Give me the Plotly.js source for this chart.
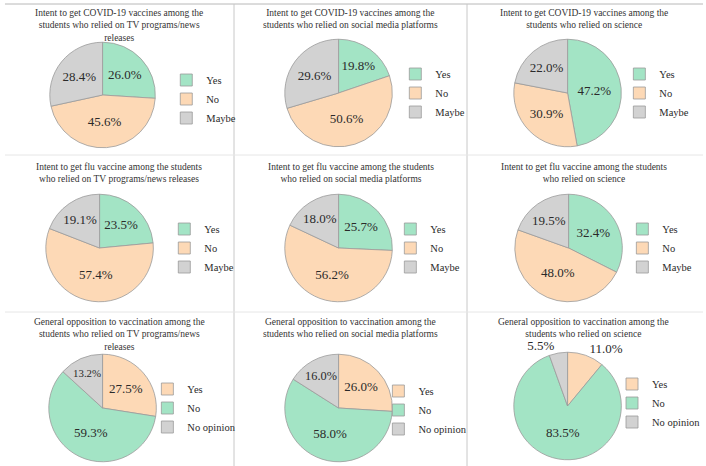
<!DOCTYPE html>
<html>
<head>
<meta charset="utf-8">
<script src="https://cdn.plot.ly/plotly-3.0.1.min.js"></script>
<style>
html,body{margin:0;padding:0;background:#fff;}
#chart{width:706px;height:466px;}
</style>
</head>
<body>
<div id="chart"></div>
<script>
// ---- Data ----
const intentLabels = ["Yes", "No", "Maybe"];
const oppositionLabels = ["Yes", "No", "No opinion"];

const covidTV = [26.0, 45.6, 28.4];
const covidSocial = [19.8, 50.6, 29.6];
const covidScience = [47.2, 30.9, 22.0];

const fluTV = [23.5, 57.4, 19.1];
const fluSocial = [25.7, 56.2, 18.0];
const fluScience = [32.4, 48.0, 19.5];

const oppTV = [27.5, 59.3, 13.2];
const oppSocial = [26.0, 58.0, 16.0];
const oppScience = [11.0, 83.5, 5.5];

const titles = [
  "Intent to get COVID-19 vaccines among the<br>students who relied on TV programs/news<br>releases",
  "Intent to get COVID-19 vaccines among the<br>students who relied on social media platforms",
  "Intent to get COVID-19 vaccines among the<br>students who relied on science",
  "Intent to get flu vaccine among the students<br>who relied on TV programs/news releases",
  "Intent to get flu vaccine among the students<br>who relied on social media platforms",
  "Intent to get flu vaccine among the students<br>who relied on science",
  "General opposition to vaccination among the<br>students who relied on TV programs/news<br>releases",
  "General opposition to vaccination among the<br>students who relied on social media platforms",
  "General opposition to vaccination among the<br>students who relied on science"
];

// ---- Styling ----
const W = 706, H = 466;
const GREEN = "#a3e4c5", PEACH = "#fdd9b6", GRAY = "#d2d2d2";
const intentColors = [GREEN, PEACH, GRAY];
const oppColors = [PEACH, GREEN, GRAY];
const FONT = "Liberation Serif";
const TXT = "#2a2a2a";

const panels = [
  {vals: covidTV, labels: intentLabels, colors: intentColors, cx: 103, cy: 95, r: 53, lx: 167, ly: 99, tx: 120, ty: 6},
  {vals: covidSocial, labels: intentLabels, colors: intentColors, cx: 340, cy: 93, r: 54, lx: 397, ly: 93, tx: 352, ty: 6},
  {vals: covidScience, labels: intentLabels, colors: intentColors, cx: 570, cy: 93, r: 54, lx: 622, ly: 93, tx: 586, ty: 6},
  {vals: fluTV, labels: intentLabels, colors: intentColors, cx: 100, cy: 248, r: 54, lx: 165, ly: 248, tx: 120, ty: 160},
  {vals: fluSocial, labels: intentLabels, colors: intentColors, cx: 340, cy: 248, r: 54, lx: 392, ly: 248, tx: 352, ty: 160},
  {vals: fluScience, labels: intentLabels, colors: intentColors, cx: 571, cy: 248, r: 54, lx: 625, ly: 248, tx: 586, ty: 160},
  {vals: oppTV, labels: oppositionLabels, colors: oppColors, cx: 103, cy: 408, r: 54, lx: 148, ly: 408, tx: 120, ty: 315},
  {vals: oppSocial, labels: oppositionLabels, colors: oppColors, cx: 340, cy: 408, r: 54, lx: 380, ly: 410, tx: 352, ty: 315},
  {vals: oppScience, labels: oppositionLabels, colors: oppColors, cx: 570, cy: 406, r: 54, lx: 615, ly: 403, tx: 586, ty: 315}
];

const data = [];
const layout = {
  width: W, height: H,
  margin: {l: 0, r: 0, t: 0, b: 0},
  paper_bgcolor: "#ffffff",
  font: {family: FONT, color: TXT, size: 10},
  annotations: [],
  shapes: [
    {type: "line", xref: "paper", yref: "paper", x0: 5 / W, x1: 1, y0: 1 - 4 / H, y1: 1 - 4 / H, line: {color: "#b8b8b8", width: 1}},
    {type: "line", xref: "paper", yref: "paper", x0: 235 / W, x1: 235 / W, y0: 0, y1: 1 - 4 / H, line: {color: "#c8c8c8", width: 1}},
    {type: "line", xref: "paper", yref: "paper", x0: 469 / W, x1: 469 / W, y0: 0, y1: 1 - 4 / H, line: {color: "#c8c8c8", width: 1}},
    {type: "line", xref: "paper", yref: "paper", x0: 5 / W, x1: 1, y0: 1 - 155 / H, y1: 1 - 155 / H, line: {color: "#e6e6e6", width: 1}},
    {type: "line", xref: "paper", yref: "paper", x0: 5 / W, x1: 1, y0: 1 - 312 / H, y1: 1 - 312 / H, line: {color: "#e6e6e6", width: 1}}
  ]
};

panels.forEach((p, i) => {
  const legName = i === 0 ? "legend" : "legend" + (i + 1);
  const isScienceOpp = (i === 8);
  // zero-width suffix keeps each panel's legend entries separate (pie legends merge equal labels)
  const labs = p.labels.map(l => l + "\u200B".repeat(i));
  data.push({
    type: "pie",
    values: p.vals,
    labels: labs,
    sort: false,
    direction: "clockwise",
    rotation: 0,
    marker: {colors: p.colors, line: {color: "#9a9a9a", width: 0.8}},
    texttemplate: "%{value:.1f}%",
    textposition: isScienceOpp ? ["outside", "inside", "outside"] : "inside",
    insidetextorientation: "horizontal",
    textfont: {family: FONT, size: 13, color: TXT},
    outsidetextfont: {family: FONT, size: 13, color: TXT},
    hoverinfo: "none",
    domain: {
      x: [(p.cx - p.r) / W, (p.cx + p.r) / W],
      y: [1 - (p.cy + p.r) / H, 1 - (p.cy - p.r) / H]
    },
    legend: legName,
    showlegend: true
  });
  layout[legName] = {
    x: p.lx / W, y: 1 - p.ly / H,
    xanchor: "left", yanchor: "middle",
    bgcolor: "rgba(0,0,0,0)",
    font: {family: FONT, size: 10.5, color: TXT},
    itemclick: false, itemdoubleclick: false
  };
  layout.annotations.push({
    xref: "paper", yref: "paper",
    x: p.tx / W, y: 1 - p.ty / H,
    xanchor: "center", yanchor: "top",
    showarrow: false,
    align: "center",
    text: titles[i],
    font: {family: FONT, size: 9.5, color: "#333"}
  });
});

Plotly.newPlot("chart", data, layout, {displayModeBar: false, staticPlot: true});
</script>
</body>
</html>
